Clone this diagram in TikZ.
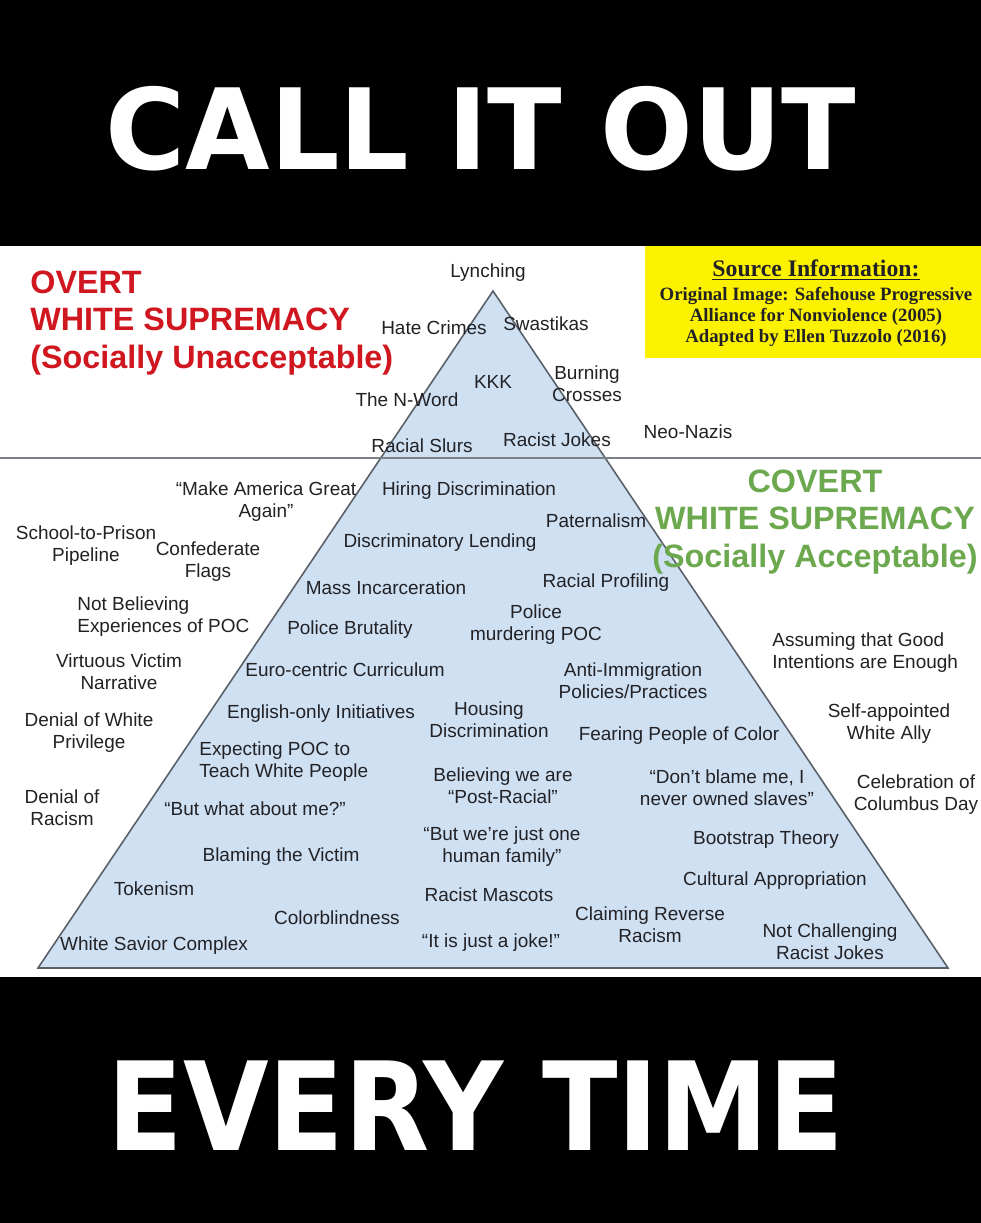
\documentclass[tikz,border=0pt]{standalone}
\usepackage{fontspec}
\setmainfont{Liberation Sans}
\newfontfamily\bannerfont{DejaVu Sans}
\newfontfamily\sourcefont{Liberation Serif}
\usepackage{tikz}
\usetikzlibrary{positioning}
\usepackage{xcolor}
\definecolor{overtRed}{RGB}{208, 22, 30}
\definecolor{covertGreen}{RGB}{108, 168, 78}
\definecolor{pyrFill}{RGB}{207, 224, 242}
\definecolor{pyrEdge}{RGB}{90, 96, 104}
\definecolor{labelInk}{RGB}{34, 34, 38}
\definecolor{srcYellow}{RGB}{252, 242, 0}

\begin{document}
\begin{tikzpicture}[x=0.02cm, y=-0.02cm,
  lbl/.style={font=\fontsize{10.8}{12.5}\selectfont, text=labelInk, align=center, inner sep=0pt},
  lblleft/.style={lbl, align=left},
  banner/.style={text=white, anchor=base, inner sep=0pt},
  overt/.style={font=\bfseries\fontsize{18.4}{21.5}\selectfont, text=overtRed, align=left, inner sep=0pt},
  covert/.style={font=\bfseries\fontsize{18.4}{21.5}\selectfont, text=covertGreen, align=center, inner sep=0pt}]
  \useasboundingbox (0,0) rectangle (980,1223);
  \fill[white] (-20,-20) rectangle (1000,1243);
  % black bands
  \fill[black] (-20,-20) rectangle (1000,246);
  \fill[black] (-20,977) rectangle (1000,1243);
  \node[banner, font=\bannerfont\bfseries\fontsize{63.8}{70}\selectfont] (callout) at (481,170) {\scalebox{0.974}[1]{CALL IT OUT}};
  \node[banner, font=\bannerfont\bfseries\fontsize{70}{76}\selectfont] (everytime) at (476,1150) {\scalebox{0.9}[1]{EVERY TIME}};

  % pyramid and divider
  \coordinate (apex) at (493,291);
  \coordinate (baseL) at (38,968);
  \coordinate (baseR) at (948,968);
  \draw[pyrEdge, fill=pyrFill, line width=0.9pt] (apex) -- (baseR) -- (baseL) -- cycle;
  \coordinate (divL) at (-20,458);
  \coordinate (divR) at (1000,458);
  \draw[pyrEdge!80, line width=1.1pt] (divL) -- (divR);

  % source box
  \fill[srcYellow] (645,246) rectangle (1000,358);
  \node[inner sep=0pt, font=\sourcefont\bfseries\fontsize{13.5}{15}\selectfont, text=labelInk] (srchead) at (816,270) {\underline{Source Information:}};
  \node[inner sep=0pt, align=center, font=\sourcefont\bfseries\fontsize{10.7}{12}\selectfont, text=labelInk] (srcbody) at (816,317) {Original Image: Safehouse Progressive\\Alliance for Nonviolence (2005)\\Adapted by Ellen Tuzzolo (2016)};

  % headings
  \node[overt, anchor=west] (overthead) at (30,323) {OVERT\\WHITE SUPREMACY\\(Socially Unacceptable)};
  \node[covert] (coverthead) at (815,522) {COVERT\\WHITE SUPREMACY\\(Socially Acceptable)};

  % overt layer
  \node[lbl] (lynching) at (488,273) {Lynching};
  \node[lbl] (hatecrimes) at (434,328) {Hate Crimes};
  \node[lbl] (swastikas) at (546,324) {Swastikas};
  \node[lbl] (kkk) at (493,382) {KKK};
  \node[lbl] (crosses) at (587,384) {Burning\\Crosses};
  \node[lbl] (nword) at (407,400) {The N-Word};
  \node[lbl] (slurs) at (422,446) {Racial Slurs};
  \node[lbl] (jokes) at (557,440) {Racist Jokes};
  \node[lbl] (neonazis) at (688,432) {Neo-Nazis};

  % covert, outside left
  \node[lbl] (maga) at (266,502) {“Make America Great\\Again”};
  \node[lbl] (pipeline) at (86,546) {School-to-Prison\\Pipeline};
  \node[lbl] (flags) at (208,562) {Confederate\\Flags};
  \node[lblleft, anchor=west] (notbelieving) at (77,617) {Not Believing\\Experiences of POC};
  \node[lbl] (virtuous) at (119,672) {Virtuous Victim\\Narrative};
  \node[lbl] (privilege) at (89,733) {Denial of White\\Privilege};
  \node[lbl] (denial) at (62,808) {Denial of\\Racism};

  % covert, inside pyramid
  \node[lbl] (hiring) at (469,491) {Hiring Discrimination};
  \node[lbl] (paternalism) at (596,521) {Paternalism};
  \node[lbl] (lending) at (440,543) {Discriminatory Lending};
  \node[lbl] (incarceration) at (386,588) {Mass Incarceration};
  \node[lbl] (profiling) at (606,583) {Racial Profiling};
  \node[lbl] (murdering) at (536,625) {Police\\murdering POC};
  \node[lbl] (brutality) at (350,630) {Police Brutality};
  \node[lbl] (eurocentric) at (345,670) {Euro-centric Curriculum};
  \node[lbl] (immigration) at (633,681) {Anti-Immigration\\Policies/Practices};
  \node[lbl] (englishonly) at (321,714) {English-only Initiatives};
  \node[lbl] (housing) at (489,720) {Housing\\Discrimination};
  \node[lbl] (fearing) at (679,736) {Fearing People of Color};
  \node[lblleft, anchor=west] (teach) at (199,762) {Expecting POC to\\Teach White People};
  \node[lbl] (aboutme) at (255,809) {“But what about me?”};
  \node[lbl] (postracial) at (503,786) {Believing we are\\“Post-Racial”};
  \node[lbl] (dontblame) at (727,788) {“Don’t blame me, I\\never owned slaves”};
  \node[lbl] (onefamily) at (502,847) {“But we’re just one\\human family”};
  \node[lbl] (bootstrap) at (766,840) {Bootstrap Theory};
  \node[lbl] (blaming) at (281,857) {Blaming the Victim};
  \node[lbl] (tokenism) at (154,889) {Tokenism};
  \node[lbl] (appropriation) at (775,881) {Cultural Appropriation};
  \node[lbl] (mascots) at (489,895) {Racist Mascots};
  \node[lbl] (colorblind) at (337,918) {Colorblindness};
  \node[lbl] (reverse) at (650,925) {Claiming Reverse\\Racism};
  \node[lbl] (savior) at (154,946) {White Savior Complex};
  \node[lbl] (justajoke) at (491,943) {“It is just a joke!”};
  \node[lbl] (challenging) at (830,942) {Not Challenging\\Racist Jokes};

  % covert, outside right
  \node[lblleft, anchor=west] (intentions) at (772,653) {Assuming that Good\\Intentions are Enough};
  \node[lbl] (ally) at (889,724) {Self-appointed\\White Ally};
  \node[lbl] (columbus) at (916,795) {Celebration of\\Columbus Day};
\end{tikzpicture}
\end{document}
